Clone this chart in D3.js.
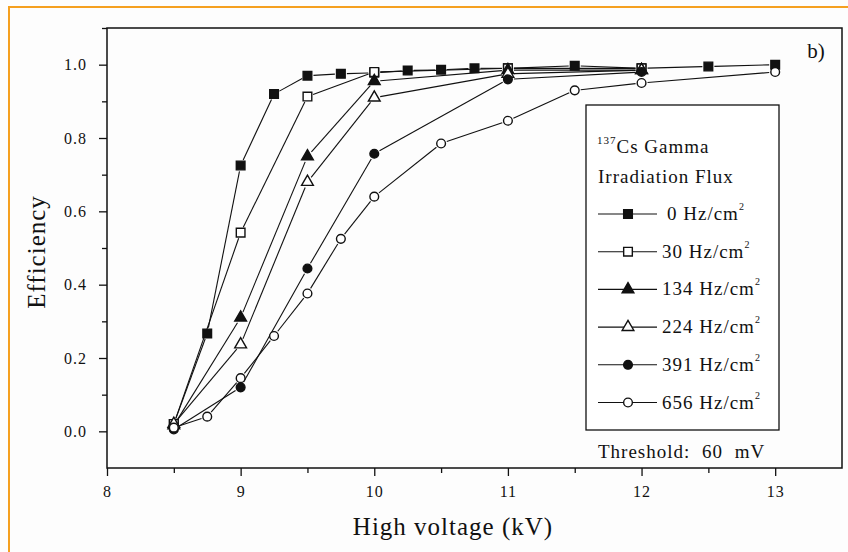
<!DOCTYPE html>
<html>
<head>
<meta charset="utf-8">
<script src="https://cdn.jsdelivr.net/npm/d3@7"></script>
<style>
  body { margin: 0; background: #fdfdfd; }
  text { font-family: "Liberation Serif", "DejaVu Serif", serif; fill: #111; }
</style>
</head>
<body>
<div class="canvas"></div>
<script>
// data
const fluxLabels = ['0', '30', '134', '224', '391', '656'];
const symbols = ['square', 'square', 'triangle', 'triangle', 'circle', 'circle'];
const filled = [true, false, true, false, true, false];

const voltsFine = [8.5, 8.75, 9, 9.25, 9.5, 9.75, 10, 10.25, 10.5, 10.75, 11, 11.5, 12, 12.5, 13];
const volts656 = [8.5, 8.75, 9, 9.25, 9.5, 9.75, 10, 10.5, 11, 11.5, 12, 13];
const voltsCoarse = [8.5, 9, 9.5, 10, 11, 12];

const eff0 = [0.02, 0.267, 0.725, 0.92, 0.97, 0.975, 0.978, 0.984, 0.986, 0.99, 0.99, 0.997, 0.99, 0.995, 1.0];
const eff30 = [0.02, 0.542, 0.913, 0.98, 0.99, 0.99];
const eff134 = [0.016, 0.31, 0.75, 0.955, 0.985, 0.985];
const eff224 = [0.02, 0.237, 0.68, 0.91, 0.975, 0.985];
const eff391 = [0.005, 0.12, 0.444, 0.757, 0.96, 0.98];
const eff656 = [0.01, 0.04, 0.145, 0.26, 0.376, 0.525, 0.64, 0.785, 0.847, 0.93, 0.95, 0.98];

const xTicks = [8, 9, 10, 11, 12, 13];
const yTicks = [0.0, 0.2, 0.4, 0.6, 0.8, 1.0];

const series = [
    { x: voltsFine, y: eff0 },
    { x: voltsCoarse, y: eff30 },
    { x: voltsCoarse, y: eff134 },
    { x: voltsCoarse, y: eff224 },
    { x: voltsCoarse, y: eff391 },
    { x: volts656, y: eff656 }
].map((s, i) => ({
    label: fluxLabels[i],
    symbol: symbols[i],
    filled: filled[i],
    points: s.x.map((v, j) => ({ v, e: s.y[j] }))
}));

const width = 848, height = 552;
const svg = d3.select('.canvas')
    .append('svg')
    .attr('width', width)
    .attr('height', height);

// orange frame
svg.append('rect')
    .attr('x', 9).attr('y', 7)
    .attr('width', width + 20).attr('height', height + 20)
    .attr('fill', '#fdfdfd')
    .attr('stroke', '#f5a020')
    .attr('stroke-width', 2);

const margin = { top: 28, right: 6, bottom: 84, left: 107 };
const graphWidth = width - margin.left - margin.right;
const graphHeight = height - margin.top - margin.bottom;

const graph = svg.append('g')
    .attr('transform', `translate(${margin.left}, ${margin.top})`);

// scales
const x = d3.scaleLinear().domain([8, 13.5]).range([0, graphWidth]);
const y = d3.scaleLinear().domain([-0.1, 1.1]).range([graphHeight, 0]);

// box
graph.append('rect')
    .attr('width', graphWidth)
    .attr('height', graphHeight)
    .attr('fill', 'none')
    .attr('stroke', '#111')
    .attr('stroke-width', 1.5);

// minor ticks
const xMinor = d3.range(8.5, 13.5, 1);
const yMinor = d3.range(-0.1, 1.1, 0.2).map(d => +d.toFixed(1)).filter(d => d > -0.1);

const xAxis = d3.axisBottom(x).tickValues(xTicks).tickFormat(d3.format('d'))
    .tickSizeInner(8).tickSizeOuter(0).tickPadding(10);
const yAxis = d3.axisLeft(y).tickValues(yTicks).tickFormat(d3.format('.1f'))
    .tickSizeInner(8).tickSizeOuter(0).tickPadding(12);

const xAxisGroup = graph.append('g')
    .attr('transform', `translate(0, ${graphHeight})`)
    .call(xAxis);
const yAxisGroup = graph.append('g').call(yAxis);

graph.append('g')
    .attr('transform', `translate(0, ${graphHeight})`)
    .call(d3.axisBottom(x).tickValues(xMinor).tickFormat('').tickSizeInner(5).tickSizeOuter(0));
graph.append('g')
    .call(d3.axisLeft(y).tickValues(yMinor).tickFormat('').tickSizeInner(5).tickSizeOuter(0));

graph.selectAll('.domain').remove();
graph.selectAll('.tick line').attr('stroke', '#111').attr('stroke-width', 1.3);
graph.selectAll('.tick text')
    .attr('font-family', '"Liberation Serif", serif')
    .attr('font-size', 16)
    .attr('letter-spacing', 1)
    .attr('fill', '#111');

// axis titles
svg.append('text')
    .attr('x', 453).attr('y', 535)
    .attr('text-anchor', 'middle')
    .attr('font-size', 25)
    .attr('letter-spacing', 1)
    .text('High voltage (kV)');

svg.append('text')
    .attr('transform', `translate(45, ${margin.top + graphHeight / 2 + 4}) rotate(-90)`)
    .attr('text-anchor', 'middle')
    .attr('font-size', 25)
    .attr('letter-spacing', 1)
    .text('Efficiency');

graph.append('text')
    .attr('x', x(13.24)).attr('y', 30)
    .attr('font-size', 21)
    .text('b)');

// lines with small gaps around symbols
const gap = 6;
series.forEach(s => {
    const pts = s.points.map(p => [x(p.v), y(p.e)]);
    for (let i = 0; i < pts.length - 1; i++) {
        const [x1, y1] = pts[i], [x2, y2] = pts[i + 1];
        const len = Math.hypot(x2 - x1, y2 - y1);
        if (len <= 2 * gap) continue;
        const ux = (x2 - x1) / len, uy = (y2 - y1) / len;
        graph.append('line')
            .attr('x1', x1 + ux * gap).attr('y1', y1 + uy * gap)
            .attr('x2', x2 - ux * gap).attr('y2', y2 - uy * gap)
            .attr('stroke', '#111')
            .attr('stroke-width', 1.1);
    }
});

const symbolType = { square: d3.symbolSquare, triangle: d3.symbolTriangle, circle: d3.symbolCircle };
const symbolSize = { square: 75, triangle: 60, circle: 60 };

const drawSymbol = (sel, s) => sel
    .attr('d', d3.symbol().type(symbolType[s.symbol]).size(symbolSize[s.symbol]))
    .attr('fill', s.filled ? '#111' : '#fff')
    .attr('stroke', '#111')
    .attr('stroke-width', 1.4);

series.forEach(s => {
    graph.selectAll(null)
        .data(s.points)
        .enter()
        .append('path')
        .attr('transform', d => `translate(${x(d.v)}, ${y(d.e)})`)
        .call(drawSymbol, s);
});

// legend
const legend = svg.append('g');
legend.append('rect')
    .attr('x', 586).attr('y', 105)
    .attr('width', 193).attr('height', 325)
    .attr('fill', '#fff')
    .attr('stroke', '#111')
    .attr('stroke-width', 1.3);

const title1 = legend.append('text')
    .attr('x', 597).attr('y', 153)
    .attr('font-size', 19)
    .attr('letter-spacing', 1);
title1.append('tspan').attr('font-size', 11).attr('dy', -9).text('137');
title1.append('tspan').attr('dy', 9).text('Cs Gamma');

legend.append('text')
    .attr('x', 598).attr('y', 183)
    .attr('font-size', 19)
    .attr('letter-spacing', 1)
    .text('Irradiation Flux');

series.forEach((s, i) => {
    const ly = 214 + i * 37.7;
    legend.append('line')
        .attr('x1', 598).attr('x2', 657)
        .attr('y1', ly).attr('y2', ly)
        .attr('stroke', '#111').attr('stroke-width', 1.1);
    legend.append('path')
        .attr('transform', `translate(628, ${ly})`)
        .call(drawSymbol, s);
    const t = legend.append('text')
        .attr('x', s.label.length === 1 ? 667 : 662).attr('y', ly + 6)
        .attr('font-size', 19)
        .attr('letter-spacing', 1);
    t.append('tspan').text(`${s.label} Hz/cm`);
    t.append('tspan').attr('font-size', 10).attr('dy', -10).text('2');
});

svg.append('text')
    .attr('x', 598).attr('y', 458)
    .attr('font-size', 19)
    .attr('letter-spacing', 1)
    .attr('word-spacing', 6)
    .text('Threshold: 60 mV');
</script>
</body>
</html>
